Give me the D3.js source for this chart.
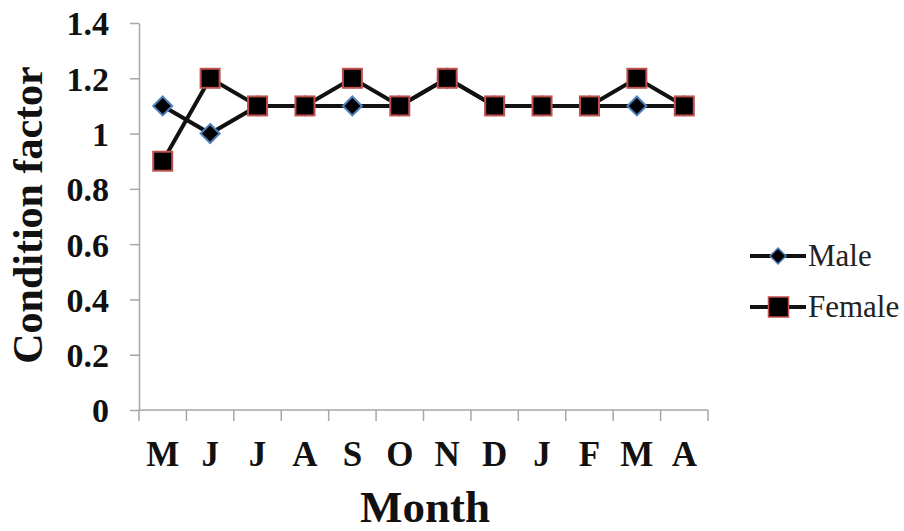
<!DOCTYPE html>
<html>
<head>
<meta charset="utf-8">
<script src="https://cdn.jsdelivr.net/npm/d3@7"></script>
<style>
  body { margin: 0; background: #fff; }
  svg { display: block; }
</style>
</head>
<body>
<svg width="904" height="531"></svg>
<script>
// chart data
const months = ['M', 'J', 'J', 'A', 'S', 'O', 'N', 'D', 'J', 'F', 'M', 'A']
const male = [1.1, 1.0, 1.1, 1.1, 1.1, 1.1, 1.2, 1.1, 1.1, 1.1, 1.1, 1.1]
const female = [0.9, 1.2, 1.1, 1.1, 1.2, 1.1, 1.2, 1.1, 1.1, 1.1, 1.2, 1.1]
const yTicks = [0, 0.2, 0.4, 0.6, 0.8, 1, 1.2, 1.4]

const svg = d3.select('svg')
const margin = {top: 23, left: 139}
const plotW = 569
const plotH = 387
const serif = '"Liberation Serif", "Times New Roman", serif'
const axisCol = '#a6a6a6'

const g = svg.append('g').attr('transform', `translate(${margin.left},${margin.top})`)

const keys = d3.range(months.length)
const x = d3.scaleBand().domain(keys).range([0, plotW])
const y = d3.scaleLinear().domain([0, 1.4]).range([plotH, 0])

// y axis
const yAxis = g.append('g')
    .call(d3.axisLeft(y).tickValues(yTicks).tickSize(9).tickSizeOuter(0)
        .tickFormat(d => String(+d.toFixed(1))))
yAxis.selectAll('line, path').attr('stroke', axisCol).attr('stroke-width', 1.5)
yAxis.selectAll('text')
    .attr('font-family', serif).attr('font-weight', 'bold').attr('font-size', 34)
    .attr('fill', '#111').attr('x', -30).attr('dy', '0.35em')

// x axis - ticks on band boundaries
const xg = g.append('g').attr('transform', `translate(0,${plotH})`)
xg.append('line').attr('x1', 0).attr('x2', plotW).attr('stroke', axisCol).attr('stroke-width', 1.5)
xg.selectAll('.tk').data(d3.range(months.length + 1)).enter().append('line')
    .attr('x1', d => d * x.step()).attr('x2', d => d * x.step())
    .attr('y1', 0).attr('y2', 11)
    .attr('stroke', axisCol).attr('stroke-width', 1.5)
xg.selectAll('.lb').data(keys).enter().append('text')
    .attr('x', d => x(d) + x.bandwidth() / 2)
    .attr('y', 56)
    .attr('text-anchor', 'middle')
    .attr('font-family', serif).attr('font-weight', 'bold').attr('font-size', 35)
    .attr('fill', '#111')
    .text(d => months[d])

const cx = i => x(i) + x.bandwidth() / 2
const line = d3.line().x((d, i) => cx(i)).y(d => y(d))

g.append('path').datum(male).attr('d', line)
    .attr('fill', 'none').attr('stroke', '#111').attr('stroke-width', 4)
g.append('path').datum(female).attr('d', line)
    .attr('fill', 'none').attr('stroke', '#111').attr('stroke-width', 4)

const diamondPath = r => `M0,${-r}L${r},0L0,${r}L${-r},0Z`

g.selectAll('.male').data(male).enter().append('path')
    .attr('d', diamondPath(9.5))
    .attr('transform', (d, i) => `translate(${cx(i)},${y(d)})`)
    .attr('fill', '#000').attr('stroke', '#4f81bd').attr('stroke-width', 2)

g.selectAll('.female').data(female).enter().append('rect')
    .attr('x', (d, i) => cx(i) - 9.5).attr('y', d => y(d) - 9.5)
    .attr('width', 19).attr('height', 19)
    .attr('fill', '#000').attr('stroke', '#c0504d').attr('stroke-width', 2)

// axis titles
svg.append('text')
    .attr('transform', 'translate(42,215) rotate(-90)')
    .attr('text-anchor', 'middle')
    .attr('font-family', serif).attr('font-weight', 'bold').attr('font-size', 42)
    .attr('fill', '#111')
    .text('Condition factor')
svg.append('text')
    .attr('x', 425).attr('y', 522)
    .attr('text-anchor', 'middle')
    .attr('font-family', serif).attr('font-weight', 'bold').attr('font-size', 45)
    .attr('fill', '#111')
    .text('Month')

// legend
const legend = svg.append('g').attr('transform', 'translate(750,256)')
const items = [{name: 'Male', shape: 'diamond'}, {name: 'Female', shape: 'square'}]
items.forEach((it, i) => {
    const row = legend.append('g').attr('transform', `translate(0,${i * 51})`)
    row.append('line').attr('x1', 0).attr('x2', 56).attr('stroke', '#111').attr('stroke-width', 4)
    if (it.shape === 'diamond') {
        row.append('path').attr('d', diamondPath(8))
            .attr('transform', 'translate(28,0)')
            .attr('fill', '#000').attr('stroke', '#4f81bd').attr('stroke-width', 1.5)
    } else {
        row.append('rect').attr('x', 18.5).attr('y', -10).attr('width', 20).attr('height', 20)
            .attr('fill', '#000').attr('stroke', '#c0504d').attr('stroke-width', 1.5)
    }
    row.append('text').attr('x', 58).attr('y', 0).attr('dy', '0.33em')
        .attr('font-family', serif).attr('font-size', 31).attr('fill', '#222')
        .text(it.name)
})
</script>
</body>
</html>
